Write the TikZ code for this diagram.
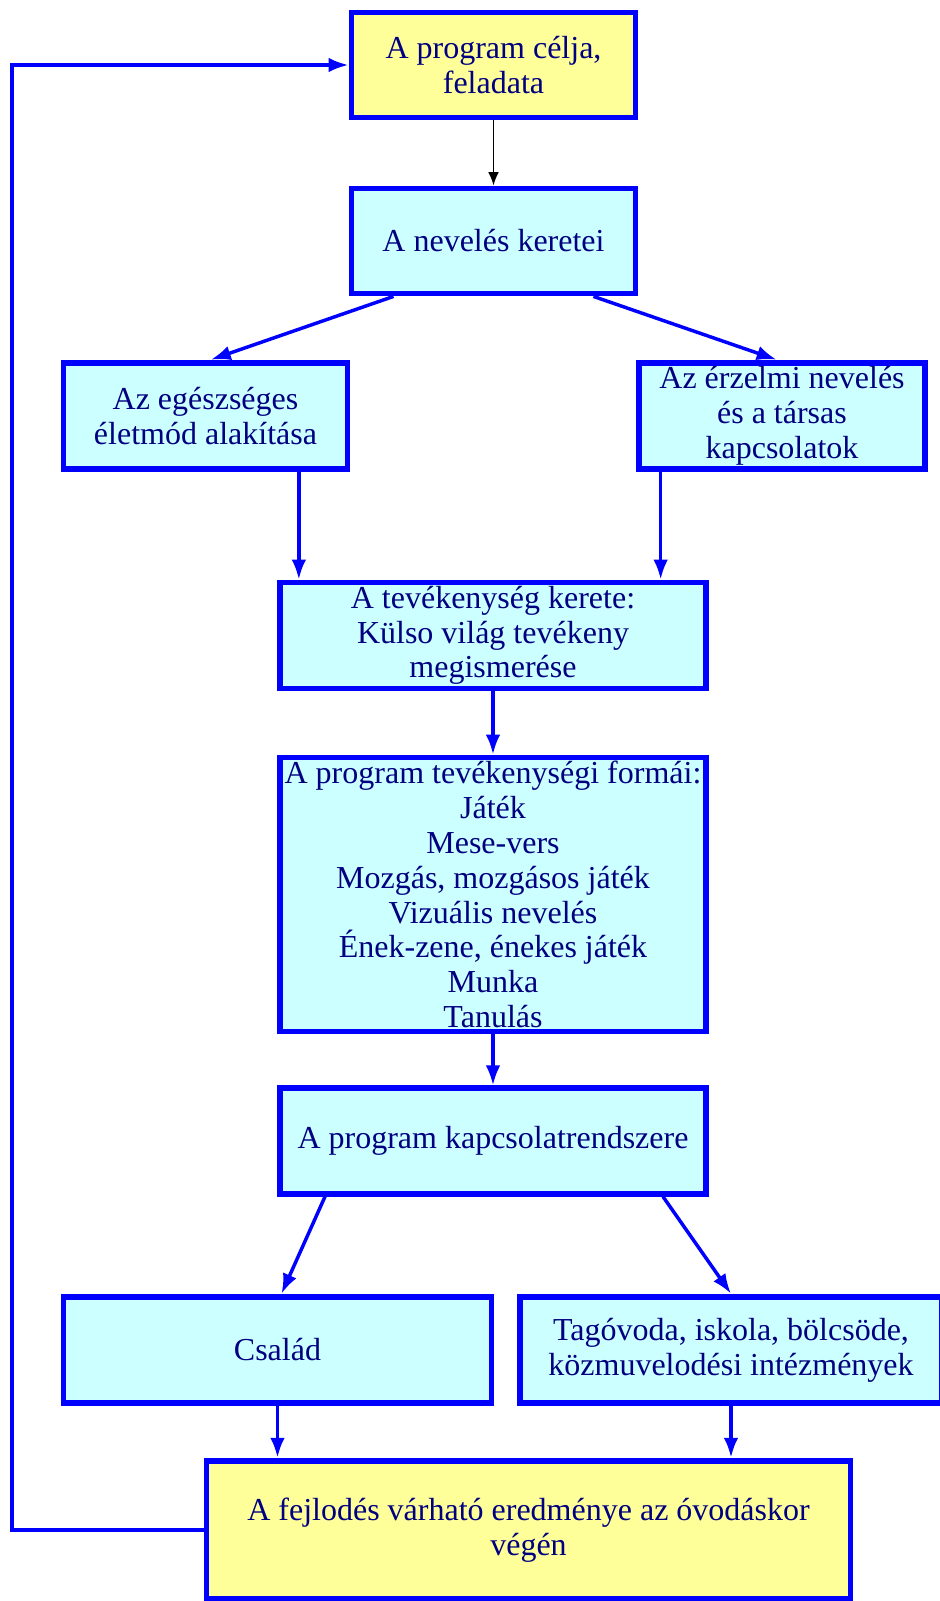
\documentclass[tikz,border=0pt]{standalone}
\usepackage{fontspec}
\setmainfont{Liberation Serif}
\usetikzlibrary{arrows.meta}
\definecolor{boxblue}{RGB}{0,0,255}
\definecolor{textnavy}{RGB}{0,0,128}
\definecolor{paleyellow}{RGB}{255,255,153}
\definecolor{palecyan}{RGB}{204,255,255}
\begin{document}
\begin{tikzpicture}[x=0.75pt,y=-0.75pt,
  box/.style={draw=boxblue,line width=4.4pt,inner sep=0pt,align=center,
    text=textnavy,font=\fontsize{24}{26.1}\selectfont},
  yellowbox/.style={box,fill=paleyellow},
  cyanbox/.style={box,fill=palecyan},
  arr/.style={draw=boxblue,line width=2.6pt,-{Latex[length=15pt,width=11pt]}}]
\useasboundingbox[fill=white] (0,0) rectangle (939,1601);

\node[yellowbox,minimum width=213pt,minimum height=78.75pt] (cel) at (493.5,65) {A program célja,\\feladata};
\node[cyanbox,minimum width=213pt,minimum height=78.75pt] (keret) at (493.5,241) {A nevelés keretei};
\node[cyanbox,minimum width=213pt,minimum height=80pt] (egeszseg) at (205.5,416) {Az egészséges\\életmód alakítása};
\node[cyanbox,minimum width=214pt,minimum height=80pt] (erzelem) at (782,416) {Az érzelmi nevelés\\és a társas\\kapcsolatok};
\node[cyanbox,minimum width=320pt,minimum height=79.5pt] (tev) at (493,635.5) {A tevékenység kerete:\\Külso világ tevékeny\\megismerése};
\node[cyanbox,minimum width=320pt,minimum height=205.5pt] (formak) at (493,894.5) {A program tevékenységi formái:\\Játék\\Mese-vers\\Mozgás, mozgásos játék\\Vizuális nevelés\\Ének-zene, énekes játék\\Munka\\Tanulás};
\node[cyanbox,minimum width=320pt,minimum height=79pt] (kapcs) at (493,1141) {A program kapcsolatrendszere};
\node[cyanbox,minimum width=321pt,minimum height=80pt] (csalad) at (277.5,1350) {Család};
\node[cyanbox,minimum width=317pt,minimum height=80pt] (intez) at (731,1350) {Tagóvoda, iskola, bölcsöde,\\közmuvelodési intézmények};
\node[yellowbox,minimum width=483pt,minimum height=104pt] (ered) at (528.5,1530) {A fejlodés várható eredménye az óvodáskor\\végén};

\coordinate (vissza) at (12,0);

\path[draw,line width=1.2pt,-{Latex[length=10pt,width=8pt]}] (cel) -- (keret);
\path[arr] ([xshift=-75pt]keret.south) -- ([xshift=4pt]egeszseg.north);
\path[arr] ([xshift=75pt]keret.south) -- ([xshift=-4pt]erzelem.north);
\path[arr] ([xshift=70pt]egeszseg.south) -- ([xshift=70pt]egeszseg.south |- tev.north);
\path[arr] ([xshift=-91pt]erzelem.south) -- ([xshift=-91pt]erzelem.south |- tev.north);
\path[arr] (tev) -- (formak);
\path[arr] (formak) -- (kapcs);
\path[arr] ([xshift=-126pt]kapcs.south) -- ([xshift=3pt]csalad.north);
\path[arr] ([xshift=127.5pt]kapcs.south) -- (intez.north);
\path[arr] (csalad.south) -- (csalad.south |- ered.north);
\path[arr] (intez.south) -- (intez.south |- ered.north);
\path[arr] (ered.west) -- (ered.west -| vissza) -- (cel.west -| vissza) -- (cel.west);
\end{tikzpicture}
\end{document}
